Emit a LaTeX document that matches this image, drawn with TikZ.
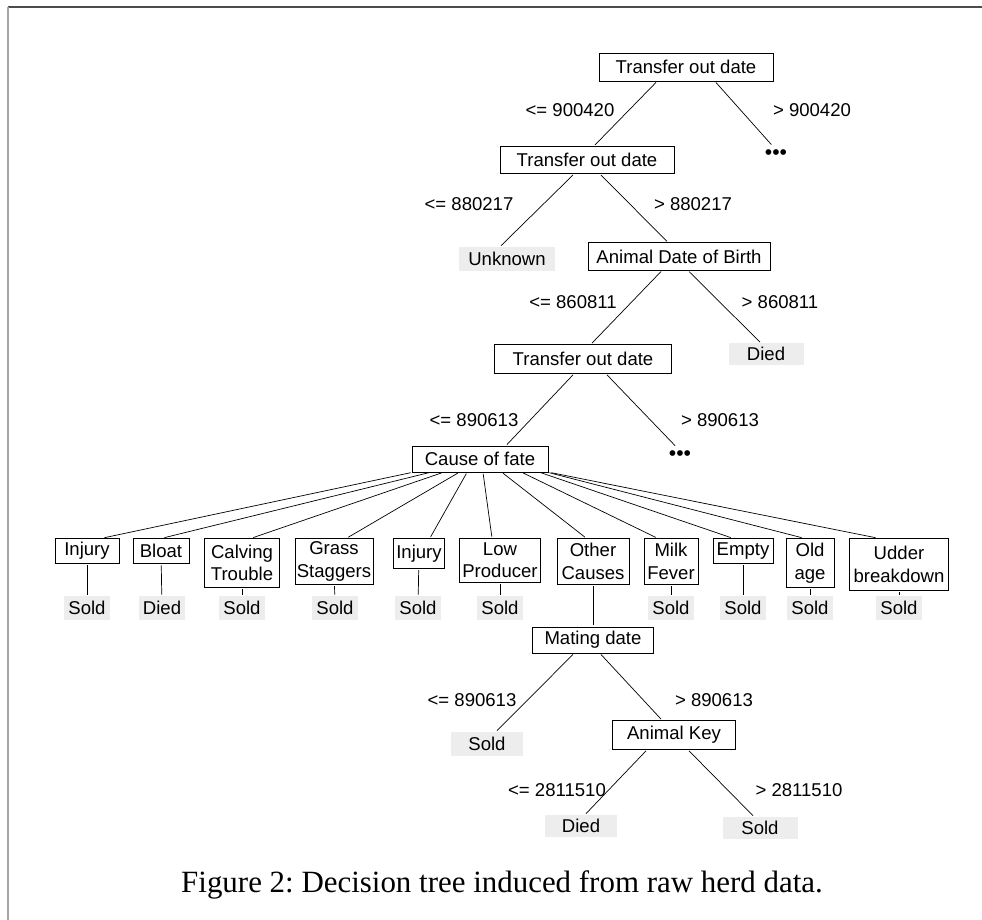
\documentclass[tikz,border=0pt]{standalone}
\usepackage{fontspec}
\setmainfont{Liberation Serif}
\setsansfont{Liberation Sans}
\usepackage{tikz}
\newcommand{\treefont}{\sffamily\fontsize{13.2}{16}\selectfont}
\frenchspacing

\begin{document}
\begin{tikzpicture}[
  split/.style={rectangle, draw, line width=0.6pt, inner sep=1pt, font=\treefont, align=center},
  leaf/.style={rectangle, fill=black!7, inner sep=1pt, font=\treefont, minimum width=1.15cm, minimum height=0.58cm},
  cond/.style={font=\treefont, inner sep=0pt},
  more/.style={font=\sffamily\fontsize{15}{16}\selectfont, inner sep=0pt},
  edge/.style={line width=0.5pt, shorten <=1pt, shorten >=1pt},
]
\useasboundingbox (0, 0) rectangle (24.55, 23);

% Page edges
\draw[black!70, line width=1.4pt] (0.2, 22.825) -- (24.55, 22.825);
\draw[black!35, line width=1.4pt] (0.21, 22.825) -- (0.21, 0);

% Upper splits
\node[split, minimum width=4.35cm, minimum height=0.7cm] (tod1) at (17.15, 21.325) {Transfer out date};
\node[split, minimum width=4.35cm, minimum height=0.68cm] (tod2) at (14.675, 19.0) {Transfer out date};
\node[more] (more1) at (19.4, 19.125) {\textbullet\textbullet\textbullet};
\node[leaf, minimum width=2.4cm, minimum height=0.6cm] (unknown) at (12.675, 16.525) {Unknown};
\node[split, minimum width=4.55cm, minimum height=0.68cm] (birth) at (16.975, 16.5875) {Animal Date of Birth};
\node[leaf, minimum width=1.875cm, minimum height=0.53cm] (died1) at (19.15, 14.15) {Died};
\node[split, minimum width=4.425cm, minimum height=0.72cm] (tod3) at (14.575, 14.025) {Transfer out date};
\node[split, minimum width=3.4cm, minimum height=0.65cm] (cause) at (12.0, 11.525) {Cause of fate};
\node[more] (more2) at (17.0, 11.6) {\textbullet\textbullet\textbullet};

% Conditions
\node[cond] (c1) at (14.25, 20.25) {<= 900420};
\node[cond] (c2) at (20.3, 20.25) {> 900420};
\node[cond] (c3) at (11.725, 17.9) {<= 880217};
\node[cond] (c4) at (17.325, 17.9) {> 880217};
\node[cond] (c5) at (14.325, 15.45) {<= 860811};
\node[cond] (c6) at (19.5, 15.45) {> 860811};
\node[cond] (c7) at (11.85, 12.5) {<= 890613};
\node[cond] (c8) at (18.0, 12.5) {> 890613};

% Causes
\node[split, anchor=north, minimum width=1.6cm, minimum height=0.63cm] (injury1) at (2.175, 9.55) {Injury};
\node[split, anchor=north, minimum width=1.4cm, minimum height=0.63cm] (bloat) at (4.025, 9.55) {Bloat};
\node[split, anchor=north, minimum width=1.875cm, minimum height=1.23cm] (calving) at (6.05, 9.55) {Calving\\Trouble};
\node[split, anchor=north, minimum width=1.95cm, minimum height=1.15cm] (grass) at (8.35, 9.55) {Grass\\Staggers};
\node[split, anchor=north, minimum width=1.275cm, minimum height=0.75cm] (injury2) at (10.475, 9.55) {Injury};
\node[split, anchor=north, minimum width=2.025cm, minimum height=1.1cm] (lowprod) at (12.5, 9.55) {Low\\Producer};
\node[split, anchor=north, minimum width=1.8cm, minimum height=1.15cm] (other) at (14.825, 9.55) {Other\\Causes};
\node[split, anchor=north, minimum width=1.35cm, minimum height=1.15cm] (milk) at (16.775, 9.55) {Milk\\Fever};
\node[split, anchor=north, minimum width=1.5cm, minimum height=0.63cm] (empty) at (18.575, 9.55) {Empty};
\node[split, anchor=north, minimum width=1.2cm, minimum height=1.23cm] (oldage) at (20.25, 9.55) {Old\\age};
\node[split, anchor=north, minimum width=2.475cm, minimum height=1.3cm] (udder) at (22.475, 9.55) {Udder\\breakdown};

% Outcomes of causes
\node[leaf] (f1) at (2.175, 7.8) {Sold};
\node[leaf] (f2) at (4.05, 7.8) {Died};
\node[leaf] (f3) at (6.05, 7.8) {Sold};
\node[leaf] (f4) at (8.375, 7.8) {Sold};
\node[leaf] (f5) at (10.45, 7.8) {Sold};
\node[leaf] (f6) at (12.5, 7.8) {Sold};
\node[leaf] (f7) at (16.775, 7.8) {Sold};
\node[leaf] (f8) at (18.575, 7.8) {Sold};
\node[leaf] (f9) at (20.25, 7.8) {Sold};
\node[leaf] (f10) at (22.475, 7.8) {Sold};

% Other causes branch
\node[split, minimum width=3.025cm, minimum height=0.65cm] (mating) at (14.825, 7.0) {Mating date};
\node[leaf, minimum width=1.8cm, minimum height=0.6cm] (sold1) at (12.175, 4.4) {Sold};
\node[split, minimum width=3.075cm, minimum height=0.72cm] (akey) at (16.85, 4.625) {Animal Key};
\node[leaf, minimum width=1.8cm, minimum height=0.55cm] (died2) at (14.525, 2.35) {Died};
\node[leaf, minimum width=1.875cm, minimum height=0.55cm] (sold2) at (19.0, 2.3) {Sold};
\node[cond] (c9) at (11.8, 5.5) {<= 890613};
\node[cond] (c10) at (17.85, 5.5) {> 890613};
\node[cond] (c11) at (13.925, 3.25) {<= 2811510};
\node[cond] (c12) at (19.975, 3.25) {> 2811510};

% Caption
\node[font=\fontsize{22}{26}\selectfont] (caption) at (12.55, 0.875) {Figure 2: Decision tree induced from raw herd data.};

% Branches
\draw[edge] ([xshift=-0.725cm]tod1.south) -- ([xshift=0.175cm]tod2.north);
\draw[edge, shorten >=5pt] ([xshift=0.725cm]tod1.south) -- (more1.north);
\draw[edge] ([xshift=-0.325cm]tod2.south) -- ([xshift=-0.175cm]unknown.north);
\draw[edge] ([xshift=0.325cm]tod2.south) -- ([xshift=-0.275cm]birth.north);
\draw[edge] ([xshift=-0.425cm]birth.south) -- ([xshift=0.2cm]tod3.north);
\draw[edge] ([xshift=0.225cm]birth.south) -- ([xshift=-0.125cm]died1.north);
\draw[edge] ([xshift=-0.225cm]tod3.south) -- ([xshift=0.65cm]cause.north);
\draw[edge, shorten >=5pt] ([xshift=0.575cm]tod3.south) -- (more2.north);

% Fan of causes
\draw[edge] ([xshift=-1.7cm]cause.south) -- ([xshift=0.4cm]injury1.north);
\draw[edge] ([xshift=-1.25cm]cause.south) -- ([xshift=0.05cm]bloat.north);
\draw[edge] ([xshift=-0.925cm]cause.south) -- ([xshift=0.25cm]calving.north);
\draw[edge] ([xshift=-0.525cm]cause.south) -- ([xshift=0.325cm]grass.north);
\draw[edge] ([xshift=-0.325cm]cause.south) -- ([xshift=0.275cm]injury2.north);
\draw[edge] ([xshift=0.075cm]cause.south) -- ([xshift=-0.2cm]lowprod.north);
\draw[edge] ([xshift=0.55cm]cause.south) -- ([xshift=-0.175cm]other.north);
\draw[edge] ([xshift=1.05cm]cause.south) -- ([xshift=-0.35cm]milk.north);
\draw[edge] ([xshift=1.5cm]cause.south) -- ([xshift=-0.275cm]empty.north);
\draw[edge] ([xshift=1.7cm]cause.south) -- ([xshift=-0.175cm]oldage.north);
\draw[edge] ([xshift=1.75cm]cause.south) -- ([xshift=-0.55cm]udder.north);

% Stems to outcomes
\draw[edge] (injury1) -- (f1);
\draw[edge] (bloat) -- (f2);
\draw[edge] (calving) -- (f3);
\draw[edge] (grass) -- (f4);
\draw[edge] (injury2) -- (f5);
\draw[edge] (lowprod) -- (f6);
\draw[edge] (other) -- (mating);
\draw[edge] (milk) -- (f7);
\draw[edge] (empty) -- (f8);
\draw[edge] (oldage) -- (f9);
\draw[edge] (udder) -- (f10);

% Mating branch
\draw[edge] ([xshift=-0.475cm]mating.south) -- ([xshift=0.225cm]sold1.north);
\draw[edge] ([xshift=0.175cm]mating.south) -- ([xshift=-0.3cm]akey.north);
\draw[edge] ([xshift=-0.675cm]akey.south) -- ([xshift=0.1cm]died2.north);
\draw[edge] ([xshift=0.35cm]akey.south) -- ([xshift=-0.15cm]sold2.north);
\end{tikzpicture}
\end{document}
